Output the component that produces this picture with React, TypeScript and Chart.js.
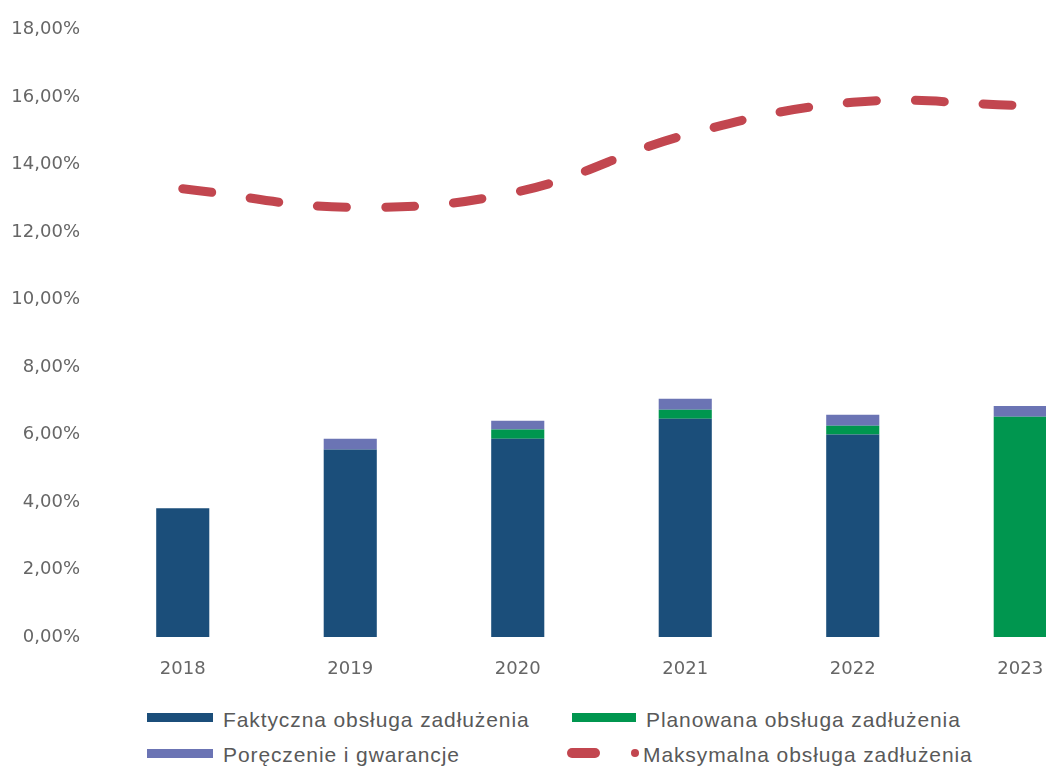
import React, { useEffect, useRef } from "react";
import { Chart, registerables } from "chart.js";

Chart.register(...registerables);

const categories = ["2018", "2019", "2020", "2021", "2022", "2023"];
const faktyczna = [3.82, 5.56, 5.88, 6.47, 6.0, 0];
const planowana = [0, 0, 0.27, 0.27, 0.26, 6.53];
const poreczenie = [0, 0.32, 0.26, 0.32, 0.33, 0.32];
const maksymalna = [13.29, 12.74, 13.2, 14.88, 15.85, 15.76];
const yTicks = [0, 2, 4, 6, 8, 10, 12, 14, 16, 18];

const seriesNames = [
  "Faktyczna obsługa zadłużenia",
  "Planowana obsługa zadłużenia",
  "Poręczenie i gwarancje",
  "Maksymalna obsługa zadłużenia",
];

const COLORS = {
  blue: "#1b4e7a",
  green: "#00964f",
  purple: "#6b74b4",
  red: "#c2464f",
};

const fmt = (v: number) => v.toFixed(2).replace(".", ",") + "%";

export default function App() {
  const ref = useRef<HTMLCanvasElement | null>(null);

  useEffect(() => {
    document.body.style.margin = "0";
    document.body.style.overflow = "hidden";
    document.body.style.background = "#ffffff";
    if (!ref.current) return;
    const chart = new Chart(ref.current, {
      type: "bar",
      data: {
        labels: categories,
        datasets: [
          {
            type: "line",
            label: seriesNames[3],
            data: maksymalna,
            borderColor: COLORS.red,
            backgroundColor: COLORS.red,
            borderWidth: 9,
            borderDash: [29, 39],
            borderCapStyle: "round",
            tension: 0.4,
            pointRadius: 0,
            stack: "max",
            order: 0,
          } as any,
          {
            label: seriesNames[0],
            data: faktyczna,
            backgroundColor: COLORS.blue,
            stack: "debt",
            order: 1,
          },
          {
            label: seriesNames[1],
            data: planowana,
            backgroundColor: COLORS.green,
            stack: "debt",
            order: 1,
          },
          {
            label: seriesNames[2],
            data: poreczenie,
            backgroundColor: COLORS.purple,
            stack: "debt",
            order: 1,
          },
        ],
      },
      options: {
        responsive: false,
        animation: false,
        devicePixelRatio: 1,
        layout: { padding: { top: 25, left: 0, right: 0, bottom: 0 } },
        datasets: {
          bar: { categoryPercentage: 1, barPercentage: 0.317 },
        },
        plugins: {
          legend: { display: false },
          tooltip: { enabled: false },
        },
        scales: {
          x: {
            stacked: true,
            grid: { display: false, drawTicks: false },
            border: { display: false },
            ticks: {
              padding: 22,
              color: "#666666",
              font: { family: "DejaVu Sans", size: 18 },
            },
            afterFit: (s: any) => {
              s.height = 63;
            },
          },
          y: {
            stacked: true,
            min: 0,
            max: 18,
            afterBuildTicks: (s: any) => {
              s.ticks = yTicks.map((v) => ({ value: v }));
            },
            grid: { display: false, drawTicks: false },
            border: { display: false },
            ticks: {
              padding: 19,
              color: "#666666",
              font: { family: "DejaVu Sans", size: 18 },
              callback: (v: any) => fmt(Number(v)),
            },
            afterFit: (s: any) => {
              s.width = 99;
            },
          },
        },
      },
    });
    return () => chart.destroy();
  }, []);

  const textStyle: React.CSSProperties = {
    position: "absolute",
    fontFamily: "'Liberation Sans', Arial, sans-serif",
    fontSize: 21,
    lineHeight: "21px",
    letterSpacing: "0.9px",
    color: "#595959",
    whiteSpace: "nowrap",
  };

  return (
    <div
      style={{
        position: "relative",
        width: 1046,
        height: 766,
        overflow: "hidden",
        background: "#ffffff",
      }}
    >
      <canvas
        ref={ref}
        width={1104}
        height={700}
        style={{ position: "absolute", left: 0, top: 0, width: 1104, height: 700 }}
      />
      {/* legend row 1 */}
      <div style={{ position: "absolute", left: 147, top: 713, width: 66, height: 9, background: COLORS.blue }} />
      <div style={{ ...textStyle, left: 223, top: 709 }}>{seriesNames[0]}</div>
      <div style={{ position: "absolute", left: 572, top: 713, width: 64, height: 9, background: COLORS.green }} />
      <div style={{ ...textStyle, left: 646, top: 709 }}>{seriesNames[1]}</div>
      {/* legend row 2 */}
      <div style={{ position: "absolute", left: 147, top: 749, width: 66, height: 9, background: COLORS.purple }} />
      <div style={{ ...textStyle, left: 223, top: 744 }}>{seriesNames[2]}</div>
      <div style={{ position: "absolute", left: 567, top: 748, width: 33, height: 10, borderRadius: 5, background: COLORS.red }} />
      <div style={{ position: "absolute", left: 631, top: 749, width: 8, height: 8, borderRadius: 4, background: COLORS.red }} />
      <div style={{ ...textStyle, left: 643, top: 744 }}>{seriesNames[3]}</div>
    </div>
  );
}
